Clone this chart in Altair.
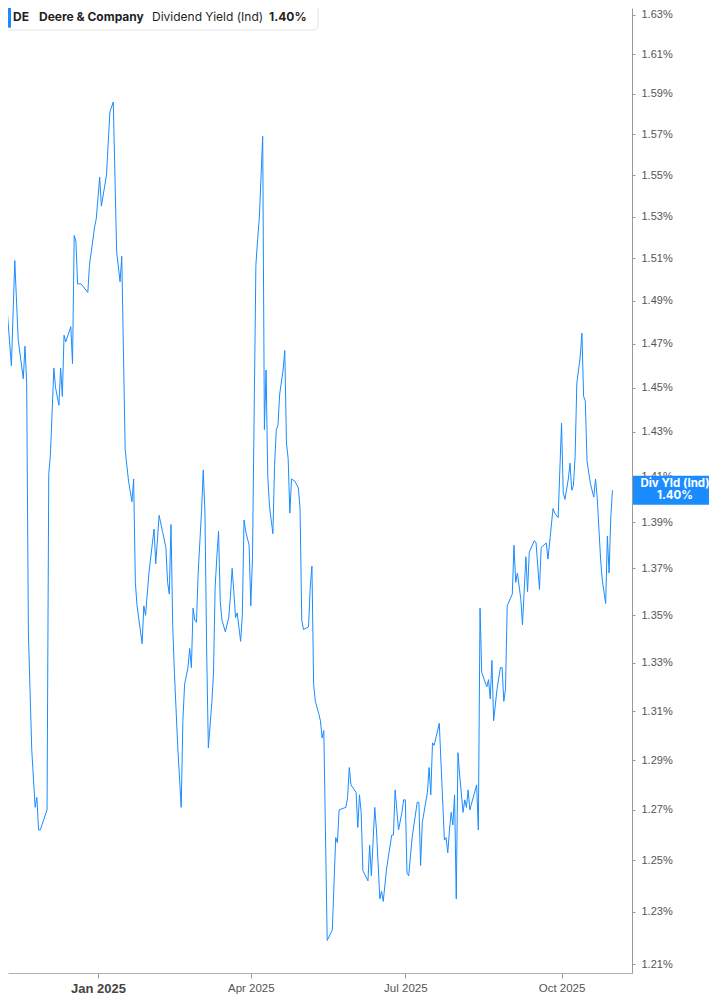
import pandas as pd
import altair as alt

# --- data ---
start_date = "2024-11-04"
day_offsets = [
    0, 1, 3, 4, 7, 9, 11, 14, 15, 16,
    17, 18, 19, 21, 22, 23, 24, 28, 29, 30,
    32, 33, 35, 36, 37, 38, 39, 42, 43, 44,
    45, 46, 48, 52, 53, 56, 57, 59, 60, 63,
    65, 67, 69, 71, 72, 74, 76, 78, 79, 80,
    81, 84, 85, 86, 88, 91, 92, 94, 96, 98,
    99, 100, 101, 102, 103, 105, 107, 108, 109, 111,
    112, 113, 114, 115, 116, 117, 119, 120, 121, 122,
    123, 125, 126, 127, 128, 129, 130, 131, 133, 135,
    136, 137, 138, 139, 140, 142, 143, 144, 145, 147,
    148, 149, 150, 151, 152, 153, 155, 156, 157, 158,
    159, 161, 162, 163, 164, 165, 167, 168, 169, 170,
    171, 172, 174, 176, 177, 178, 179, 182, 183, 184,
    185, 186, 188, 189, 190, 191, 193, 196, 198, 199,
    200, 204, 205, 206, 207, 210, 211, 212, 213, 214,
    217, 218, 219, 221, 222, 224, 225, 226, 228, 231,
    232, 233, 235, 237, 238, 239, 240, 241, 243, 246,
    247, 248, 249, 252, 253, 254, 255, 256, 259, 262,
    263, 264, 265, 266, 267, 268, 269, 270, 271, 273,
    274, 275, 276, 277, 281, 282, 283, 284, 287, 288,
    289, 290, 291, 293, 295, 296, 297, 298, 299, 302,
    303, 304, 305, 307, 308, 310, 311, 312, 315, 316,
    318, 319, 322, 323, 326, 327, 329, 331, 332, 333,
    335, 336, 337, 338, 339, 340, 342, 343, 344, 345,
    346, 348, 350, 351, 352, 354, 355, 357, 358, 359,
    360, 361,
]
div_yield = [
    1.464, 1.468, 1.430, 1.491, 1.460, 1.509, 1.472, 1.454, 1.469, 1.452,
    1.343, 1.318, 1.294, 1.271, 1.275, 1.262, 1.262, 1.270, 1.411, 1.420,
    1.459, 1.450, 1.442, 1.459, 1.446, 1.474, 1.471, 1.478, 1.461, 1.521,
    1.518, 1.498, 1.498, 1.494, 1.507, 1.525, 1.529, 1.549, 1.535, 1.550,
    1.581, 1.586, 1.513, 1.499, 1.511, 1.422, 1.408, 1.399, 1.409, 1.364,
    1.354, 1.338, 1.354, 1.350, 1.368, 1.387, 1.372, 1.393, 1.386, 1.379,
    1.364, 1.359, 1.389, 1.346, 1.326, 1.295, 1.271, 1.306, 1.321, 1.328,
    1.336, 1.328, 1.353, 1.348, 1.347, 1.368, 1.395, 1.413, 1.394, 1.335,
    1.295, 1.313, 1.325, 1.362, 1.375, 1.386, 1.356, 1.348, 1.343, 1.349,
    1.358, 1.370, 1.360, 1.349, 1.351, 1.339, 1.350, 1.391, 1.386, 1.380,
    1.354, 1.375, 1.441, 1.507, 1.519, 1.529, 1.569, 1.431, 1.458, 1.410,
    1.397, 1.385, 1.415, 1.431, 1.433, 1.447, 1.458, 1.467, 1.425, 1.418,
    1.394, 1.409, 1.408, 1.405, 1.396, 1.348, 1.344, 1.345, 1.362, 1.371,
    1.321, 1.314, 1.309, 1.306, 1.299, 1.302, 1.219, 1.223, 1.259, 1.257,
    1.270, 1.271, 1.275, 1.287, 1.280, 1.277, 1.263, 1.276, 1.269, 1.246,
    1.242, 1.256, 1.244, 1.271, 1.262, 1.235, 1.238, 1.234, 1.247, 1.260,
    1.260, 1.278, 1.262, 1.269, 1.274, 1.274, 1.245, 1.244, 1.259, 1.273,
    1.273, 1.248, 1.265, 1.277, 1.287, 1.276, 1.297, 1.296, 1.305, 1.258,
    1.259, 1.253, 1.262, 1.269, 1.264, 1.276, 1.235, 1.293, 1.284, 1.269,
    1.274, 1.271, 1.278, 1.270, 1.280, 1.262, 1.353, 1.326, 1.320, 1.323,
    1.315, 1.331, 1.306, 1.319, 1.328, 1.328, 1.314, 1.319, 1.354, 1.359,
    1.380, 1.364, 1.368, 1.357, 1.346, 1.375, 1.360, 1.377, 1.382, 1.381,
    1.361, 1.379, 1.381, 1.374, 1.396, 1.394, 1.392, 1.434, 1.403, 1.400,
    1.409, 1.416, 1.404, 1.406, 1.419, 1.452, 1.464, 1.475, 1.446, 1.444,
    1.417, 1.407, 1.401, 1.409, 1.401, 1.374, 1.365, 1.355, 1.384, 1.368,
    1.392, 1.404,
]
y_ticks = [1.21, 1.23, 1.25, 1.27, 1.29, 1.31, 1.33, 1.35, 1.37, 1.39, 1.41,
           1.43, 1.45, 1.47, 1.49, 1.51, 1.53, 1.55, 1.57, 1.59, 1.61, 1.63]
x_ticks = ["2025-01-01", "2025-04-01", "2025-07-01", "2025-10-01"]

ticker = "DE"
company = "Deere & Company"
metric = "Dividend Yield (Ind)"
short_metric = "Div Yld (Ind)"

df = pd.DataFrame({
    "date": pd.Timestamp(start_date) + pd.to_timedelta(day_offsets, unit="D"),
    "yield": div_yield,
})
last = df.tail(1)
last_label = f"{div_yield[-1]:.2f}%"

W, H = 624, 965
blue = "#1a8cff"
font = "Inter"

x_enc = alt.X(
    "date:T",
    title=None,
    scale=alt.Scale(domain=[alt.DateTime(year=2024, month=11, date=9),
                            alt.DateTime(year=2025, month=11, date=11, hours=12)]),
    axis=alt.Axis(
        values=[alt.DateTime(year=int(t[:4]), month=int(t[5:7]), date=1) for t in x_ticks],
        format="%b %Y", grid=False, tickSize=5, labelPadding=4,
        domainColor="#b0b0b0", tickColor="#999999",
        labelColor={"expr": "month(datum.value) == 0 ? '#444444' : '#555555'"},
        labelFontSize={"expr": "month(datum.value) == 0 ? 13 : 11.5"},
        labelFontWeight={"expr": "month(datum.value) == 0 ? 'bold' : 'normal'"},
    ),
)
y_enc = alt.Y(
    "yield:Q",
    title=None,
    scale=alt.Scale(type="log", domain=[1.2066, 1.6335], nice=False, zero=False),
    axis=alt.Axis(orient="right", values=y_ticks, format=".2f",
                  labelExpr="datum.label + '%'", grid=False, tickSize=3,
                  labelPadding=6, labelFontSize=11, labelColor="#555555",
                  domainColor="#999999", tickColor="#999999"),
)

line = alt.Chart(df).mark_line(color=blue, strokeWidth=1, clip=True).encode(x_enc, y_enc)

# value tag on the right axis
tag = alt.Chart(last).mark_rect(color=blue, yOffset=-14.5, y2Offset=14.5).encode(
    x=alt.value(W + 1), x2=alt.value(W + 86), y=y_enc, y2="yield")
tag_name = alt.Chart(last).mark_text(text=short_metric, color="white", font=font,
                                     fontWeight="bold", fontSize=11.5, dy=-6).encode(
    x=alt.value(W + 43), y=y_enc)
tag_value = alt.Chart(last).mark_text(text=last_label, color="white", font=font,
                                      fontWeight="bold", fontSize=11.5, dy=6).encode(
    x=alt.value(W + 43), y=y_enc)

# header legend box
one = pd.DataFrame({"k": [0]})
box = alt.Chart(one).mark_rect(fill="white", stroke="#e4e4e4", cornerRadius=4).encode(
    x=alt.value(-4), x2=alt.value(310), y=alt.value(-6), y2=alt.value(22))
bar = alt.Chart(one).mark_rect(color=blue, cornerRadius=1.5).encode(
    x=alt.value(0), x2=alt.value(3), y=alt.value(-4), y2=alt.value(20))

def head_text(txt, x, weight):
    return alt.Chart(one).mark_text(text=txt, align="left", baseline="middle", font=font,
                                    fontSize=12, fontWeight=weight, color="#1f1f1f").encode(
        x=alt.value(x), y=alt.value(9))

header = (box + bar + head_text(ticker, 5, "bold") + head_text(company, 31, "bold")
          + head_text(metric, 144, "normal") + head_text(last_label, 261, "bold"))

chart = (line + tag + tag_name + tag_value + header).properties(
    width=W, height=H,
    background="white",
    autosize=alt.AutoSizeParams(type="none"),
    padding={"left": 0, "top": 0, "right": 77, "bottom": 24},
).configure_view(stroke="transparent", strokeWidth=0)

chart.save("out.html", embed_options={"renderer": "svg", "actions": False})
